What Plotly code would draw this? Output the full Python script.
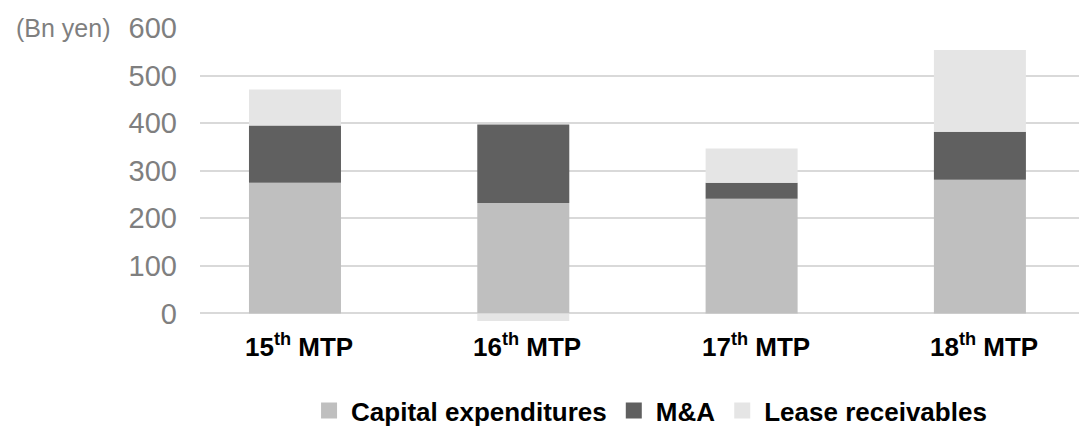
import plotly.graph_objects as go

categories = ["15th MTP", "16th MTP", "17th MTP", "18th MTP"]
cat_labels = ["15<sup>th</sup> MTP", "16<sup>th</sup> MTP", "17<sup>th</sup> MTP", "18<sup>th</sup> MTP"]
capex = [275, 232, 241, 281]
mna = [120, 165, 34, 101]
lease = [76, -16, 72, 172]
y_ticks = [0, 100, 200, 300, 400, 500, 600]

series_names = ["Capital expenditures", "M&A", "Lease receivables"]
series_colors = ["#bfbfbf", "#606060", "#e5e5e5"]
series_values = [capex, mna, lease]

FONT = "Liberation Sans, Arial, sans-serif"
fig = go.Figure()
for name, color, vals in zip(series_names, series_colors, series_values):
    fig.add_bar(x=categories, y=vals, name=name, showlegend=False,
                marker=dict(color=color, line=dict(width=0)))
# legend entries with larger square swatches
for name, color in zip(series_names, series_colors):
    fig.add_scatter(x=[None], y=[None], mode="markers", name="<b>" + name + "</b>",
                    marker=dict(symbol="square", size=20, color=color), showlegend=True)

for c, t in zip(categories, cat_labels):
    fig.add_annotation(x=c, y=0, xref="x", yref="y", text="<b>" + t + "</b>", showarrow=False,
                       yanchor="middle", xshift=4, yshift=-32, font=dict(family=FONT, size=26, color="#000000"))

fig.add_annotation(x=-0.2116, y=600, xref="paper", yref="y", xanchor="left", yanchor="middle",
                   text="(Bn yen)", showarrow=False, font=dict(family=FONT, size=25, color="#7f7f7f"))

fig.update_layout(
    barmode="relative",
    bargap=0.597,
    width=1079, height=426,
    margin=dict(l=200, r=0, t=28, b=103),
    plot_bgcolor="white", paper_bgcolor="white",
    font=dict(family=FONT),
    showlegend=True,
    legend=dict(orientation="h", x=0.602, xref="container", xanchor="center", y=0.036, yref="container", yanchor="middle",
                font=dict(family=FONT, size=26, color="#000000"), traceorder="normal", itemwidth=34,
                itemsizing="trace"),
)
fig.update_xaxes(range=[-0.416, 3.434], showticklabels=False, showgrid=False, zeroline=False, showline=False)
fig.update_yaxes(range=[-20, 600], tickvals=y_ticks, showgrid=True, gridcolor="#d9d9d9", gridwidth=1.5,
                 zeroline=False, showline=False, ticks="", ticklabelstandoff=22,
                 tickfont=dict(family=FONT, size=29, color="#7f7f7f"))

fig.write_html("out.html")
